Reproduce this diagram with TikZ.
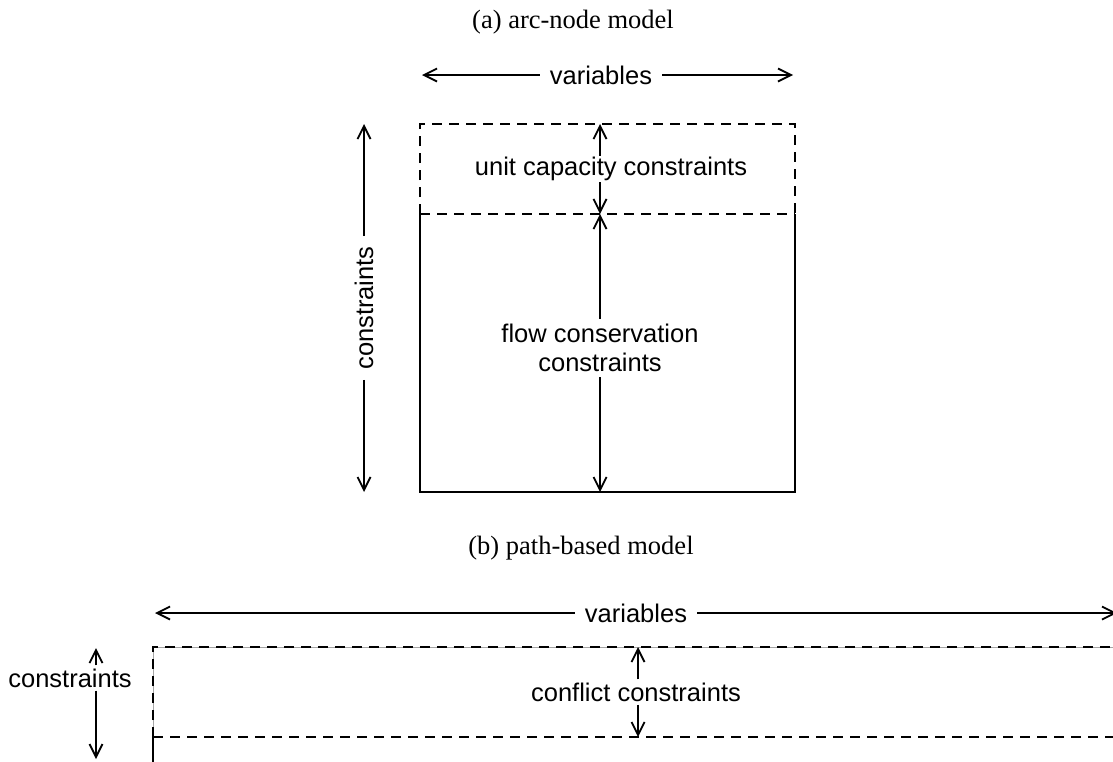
\documentclass[tikz,border=0pt]{standalone}
\usepackage{fontspec}
\setmainfont{Liberation Serif}
\setsansfont{Liberation Sans}
\usetikzlibrary{arrows.meta}
\begin{document}
\begin{tikzpicture}[x=1pt,y=-1pt,
  lbl/.style={font=\sffamily\fontsize{25.5}{29}\selectfont, inner sep=5pt, align=center},
  gaplbl/.style={lbl, inner sep=10pt},
  ttl/.style={font=\fontsize{26.5}{30}\selectfont, inner sep=0pt},
  dim/.style={line width=1.8pt, -{Straight Barb[length=13pt,width=13pt,line width=1.8pt]}},
  edge/.style={line width=2.2pt},
  dashedge/.style={line width=2.2pt, dash pattern=on 10pt off 7pt},
  hairline/.style={line width=0.6pt, gray!70}]
\useasboundingbox (0,0) rectangle (1113,761);
\clip (0,0) rectangle (1113,761);

% ---------- (a) arc-node model ----------
\node[ttl] (ta) at (573,22) {(a) arc-node model};

\coordinate (a-nw) at (420,124);
\coordinate (a-ne) at (795,124);
\coordinate (a-mw) at (420,214);
\coordinate (a-me) at (795,214);
\coordinate (a-sw) at (420,492);
\coordinate (a-se) at (795,492);

\draw[dashedge] (a-mw) -- (a-nw) -- (a-ne) -- (a-me);
\draw[dashedge] (a-mw) -- (a-me);
\draw[edge] (a-mw) -- (a-sw) -- (a-se) -- (a-me);

% column width
\node[gaplbl] (va) at (601,75) {variables};
\coordinate (va-l) at (422,75);
\coordinate (va-r) at (793,75);
\draw[dim] (va.west) -- (va-l);
\draw[dim] (va.east) -- (va-r);

% row count
\node[gaplbl, rotate=90] (ca) at (364,308) {constraints};
\coordinate (ca-t) at (364,124);
\coordinate (ca-b) at (364,492);
\draw[dim] (ca.east) -- (ca-t);
\draw[dim] (ca.west) -- (ca-b);

% inner blocks
\coordinate (ax) at (600,0);
\node[lbl, inner sep=1pt] (uc) at (611,169) {unit capacity constraints};
\draw[dim] (uc.north -| ax) -- (a-nw -| ax);
\draw[dim] (uc.south -| ax) -- (a-mw -| ax);

\node[lbl] (fc) at (600,348) {flow conservation\\constraints};
\draw[dim] (fc.north -| ax) -- (a-mw -| ax);
\draw[dim] (fc.south -| ax) -- (a-sw -| ax);

% ---------- (b) path-based model ----------
\node[ttl] (tb) at (581,548) {(b) path-based model};

\coordinate (b-nw) at (153,647);
\coordinate (b-ne) at (1140,647);
\coordinate (b-mw) at (153,737);
\coordinate (b-me) at (1140,737);
\coordinate (b-sw) at (153,800);

\draw[hairline] (b-sw) -- (b-nw) -- (b-ne);
\draw[dashedge] (b-mw) -- (b-nw) -- (b-ne);
\draw[dashedge] (b-mw) -- (b-me);
\draw[edge] (b-mw) -- (b-sw);

\node[gaplbl] (vb) at (636,613) {variables};
\coordinate (vb-l) at (155,613);
\coordinate (vb-r) at (1117,613);
\draw[dim] (vb.west) -- (vb-l);
\draw[dim] (vb.east) -- (vb-r);

\coordinate (bx) at (638,0);
\node[lbl, inner sep=3pt] (cc) at (636,692) {conflict constraints};
\draw[dim] (cc.north -| bx) -- (b-nw -| bx);
\draw[dim] (cc.south -| bx) -- (b-mw -| bx);

\coordinate (lx) at (96,0);
\node[lbl, inner sep=3pt] (cb) at (70,678) {constraints};
\coordinate (cb-t) at (96,648);
\coordinate (cb-b) at (96,759);
\draw[dim] (cb.north -| lx) -- (cb-t);
\draw[dim] (cb.south -| lx) -- (cb-b);
\end{tikzpicture}
\end{document}
